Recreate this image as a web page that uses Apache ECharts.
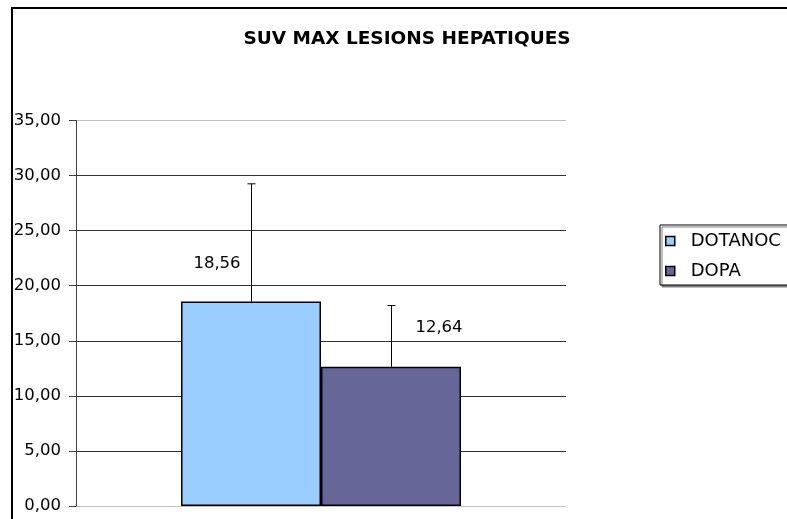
<!DOCTYPE html>
<html>
<head>
<meta charset="utf-8">
<script src="https://cdn.jsdelivr.net/npm/echarts@6/dist/echarts.min.js"></script>
<style>
  html, body { margin: 0; padding: 0; background: #fff; }
  #chart { width: 787px; height: 519px; }
</style>
</head>
<body>
<div id="chart"></div>
<script>
// données
const categories = ['']
const seriesNames = ['DOTANOC', 'DOPA']
const values = [18.56, 12.64]
const errorsPlus = [10.69, 5.56]
const yTicks = [0, 5, 10, 15, 20, 25, 30, 35]
const colors = ['#99CCFF', '#666699']

const BAR_W = 140
const FONT = 'DejaVu Sans'

const chart = echarts.init(document.getElementById('chart'))

// barre d'erreur (uniquement +)
const errorSeries = (i, side) => ({
    type: 'custom',
    name: seriesNames[i] + '_err',
    z: 5,
    silent: true,
    data: [[0, values[i], values[i] + errorsPlus[i]]],
    renderItem: (params, api) => {
        const base = api.coord([api.value(0), api.value(1)])
        const top = api.coord([api.value(0), api.value(2)])
        const x = Math.round(base[0] + side * BAR_W / 2) + 0.5
        const style = { stroke: '#000', lineWidth: 1 }
        return {
            type: 'group',
            children: [
                { type: 'line', shape: { x1: x, y1: base[1], x2: x, y2: top[1] }, style },
                { type: 'line', shape: { x1: x - 4, y1: top[1], x2: x + 4, y2: top[1] }, style }
            ]
        }
    }
})

const labelPos = [[36, -38], [118, -39]]

const option = {
    animation: false,
    backgroundColor: '#fff',
    title: {
        text: 'SUV MAX LESIONS HEPATIQUES',
        left: 402,
        textAlign: 'center',
        top: 25,
        textStyle: { fontFamily: FONT, fontSize: 18.5, fontWeight: 'bold', color: '#000' }
    },
    legend: {
        data: seriesNames,
        orient: 'vertical',
        left: 660,
        top: 225,
        icon: 'rect',
        itemWidth: 9,
        itemHeight: 9,
        itemGap: 12,
        padding: [7, 14, 5, 5],
        borderColor: '#000',
        borderWidth: 1,
        backgroundColor: '#fff',
        shadowColor: '#808080',
        shadowOffsetX: 2,
        shadowOffsetY: 2,
        shadowBlur: 0,
        itemStyle: { borderColor: '#000', borderWidth: 1.5 },
        textStyle: { fontFamily: FONT, fontSize: 18, color: '#000', padding: [0, 0, 0, 11] }
    },
    grid: { left: 76, right: 221, top: 120.5, bottom: 13, containLabel: false },
    xAxis: {
        type: 'category',
        data: categories,
        axisLine: { show: false },
        axisTick: { show: false },
        axisLabel: { show: false }
    },
    yAxis: {
        type: 'value',
        min: yTicks[0],
        max: yTicks[yTicks.length - 1],
        interval: 5,
        axisLine: { show: true, lineStyle: { color: '#404040', width: 1 } },
        axisTick: { show: true, length: 7, lineStyle: { color: '#404040' } },
        axisLabel: {
            margin: 15,
            fontFamily: FONT,
            fontSize: 16.5,
            color: '#000',
            formatter: v => v.toFixed(2).replace('.', ',')
        },
        splitLine: {
            show: true,
            lineStyle: {
                color: ['#c0c0c0', '#333', '#333', '#333', '#333', '#333', '#333', '#c0c0c0'],
                width: 1
            }
        }
    },
    series: [
        ...seriesNames.map((name, i) => ({
            name,
            type: 'bar',
            data: [values[i]],
            barWidth: BAR_W,
            barGap: '0%',
            itemStyle: { color: colors[i], borderColor: '#000', borderWidth: 1.5 },
            label: {
                show: true,
                position: labelPos[i],
                align: 'center',
                verticalAlign: 'middle',
                fontFamily: FONT,
                fontSize: 16.5,
                color: '#000',
                formatter: p => p.value.toFixed(2).replace('.', ',')
            }
        })),
        errorSeries(0, -1),
        errorSeries(1, 1)
    ],
    graphic: [
        {
            type: 'rect',
            shape: { x: 12, y: 8, width: 800, height: 540 },
            style: { fill: 'none', stroke: '#000', lineWidth: 2 },
            z: 100
        }
    ]
}

chart.setOption(option)
</script>
</body>
</html>
